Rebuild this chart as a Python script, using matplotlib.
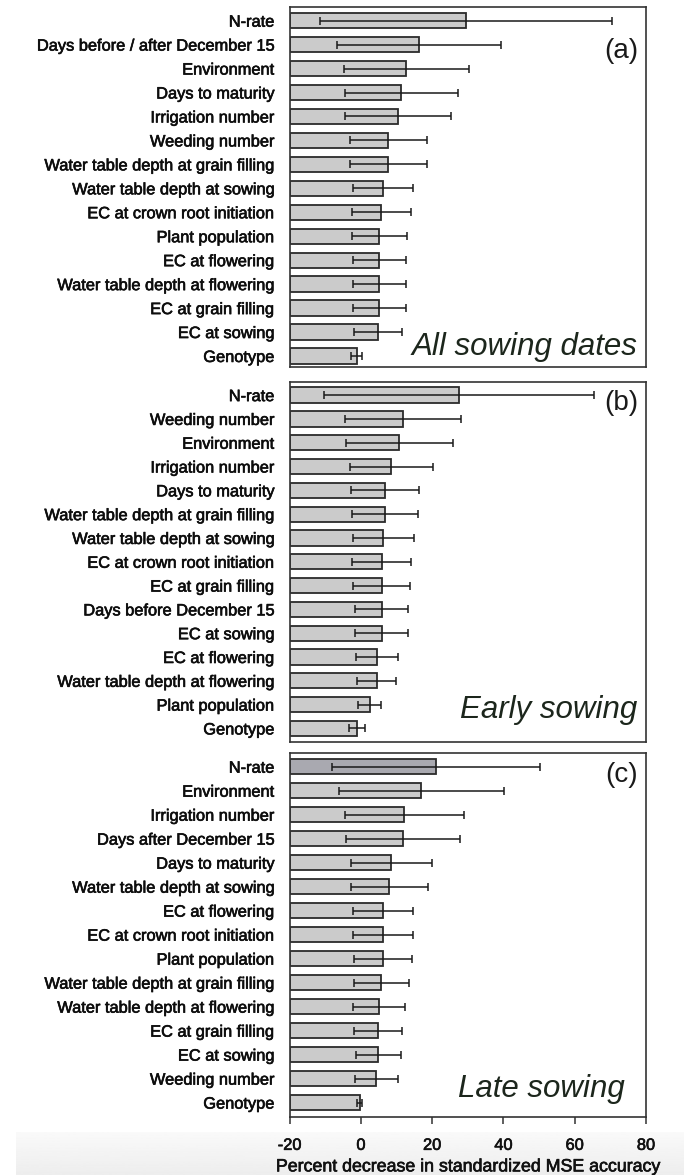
import matplotlib
matplotlib.use("Agg")
import matplotlib.pyplot as plt
import matplotlib.patheffects as pe
import numpy as np

plt.rcParams['font.family'] = ['Liberation Sans', 'DejaVu Sans']

# Panel (a): all sowing dates
labels_a = ["N-rate", "Days before / after December 15", "Environment", "Days to maturity",
            "Irrigation number", "Weeding number", "Water table depth at grain filling",
            "Water table depth at sowing", "EC at crown root initiation", "Plant population",
            "EC at flowering", "Water table depth at flowering", "EC at grain filling",
            "EC at sowing", "Genotype"]
values_a = [29.4, 16.4, 12.7, 11.3, 10.4, 7.6, 7.6, 6.2, 5.7, 5.2, 5.2, 5.2, 5.2, 4.8, -1.2]
errors_a = [41.0, 23.0, 17.5, 15.9, 15.0, 10.8, 10.8, 8.4, 8.3, 7.6, 7.5, 7.5, 7.5, 6.8, 1.5]

# Panel (b): early sowing
labels_b = ["N-rate", "Weeding number", "Environment", "Irrigation number", "Days to maturity",
            "Water table depth at grain filling", "Water table depth at sowing",
            "EC at crown root initiation", "EC at grain filling", "Days before December 15",
            "EC at sowing", "EC at flowering", "Water table depth at flowering",
            "Plant population", "Genotype"]
values_b = [27.5, 11.8, 10.8, 8.5, 6.7, 6.7, 6.3, 5.8, 5.8, 5.8, 5.8, 4.4, 4.4, 2.5, -1.2]
errors_b = [37.8, 16.3, 15.0, 11.7, 9.6, 9.2, 8.6, 8.2, 7.9, 7.5, 7.5, 5.9, 5.4, 3.2, 2.2]

# Panel (c): late sowing
labels_c = ["N-rate", "Environment", "Irrigation number", "Days after December 15",
            "Days to maturity", "Water table depth at sowing", "EC at flowering",
            "EC at crown root initiation", "Plant population",
            "Water table depth at grain filling", "Water table depth at flowering",
            "EC at grain filling", "EC at sowing", "Weeding number", "Genotype"]
values_c = [21.0, 16.9, 12.2, 11.8, 8.5, 8.0, 6.2, 6.2, 6.2, 5.7, 5.2, 4.8, 4.8, 4.3, -0.4]
errors_c = [29.2, 23.2, 16.7, 16.0, 11.4, 10.8, 8.4, 8.4, 8.1, 7.7, 7.3, 6.8, 6.3, 6.0, 0.8]

panel_tags = ["(a)", "(b)", "(c)"]
panel_titles = ["All sowing dates", "Early sowing", "Late sowing"]
xticks = [-20, 0, 20, 40, 60, 80]
xlabel = "Percent decrease in standardized MSE accuracy"

W, H = 684, 1175
fig = plt.figure(figsize=(W / 100, H / 100), dpi=100)

# faint grey band behind the x-axis labels
band_top = 1132
bg = fig.add_axes([16 / W, 0, 1 - 16 / W, (H - band_top) / H], zorder=-10)
grad = np.linspace(0.978, 0.93, 50).reshape(-1, 1)
bg.imshow(grad, aspect="auto", cmap="gray", vmin=0, vmax=1,
          extent=[0, 1, 0, 1], origin="upper")
bg.axis("off")

left = 289.7 / W
width = (646.0 - 289.7) / W
boxes = [(7, 367), (382, 742), (753, 1117)]
ylims = [(-0.46, 14.57), (-0.57, 14.55), (-0.6, 14.57)]
tag_y = [51, 403, 775]
title_pos = [(637, 355), (637, 718), (625, 1097)]

XMIN, XMAX = -20, 80
edge = "#2b2b2b"
heavy = [pe.withStroke(linewidth=0.45, foreground="#0d0d0d")]

panels = [(labels_a, values_a, errors_a), (labels_b, values_b, errors_b),
          (labels_c, values_c, errors_c)]

for i, (labels, vals, errs) in enumerate(panels):
    top, bot = boxes[i]
    ax = fig.add_axes([left, 1 - bot / H, width, (bot - top) / H])
    ax.patch.set_alpha(0)
    n = len(labels)
    ypos = list(range(n - 1, -1, -1))
    colors = ["#cbcbcb"] * n
    if i == 2:
        colors[0] = "#a9a9b0"
    ax.barh(ypos, [v - XMIN for v in vals], left=XMIN, height=0.64,
            color=colors, edgecolor=edge, linewidth=1.3, zorder=2)
    ax.errorbar(vals, ypos, xerr=errs, fmt="none", ecolor="#1a1a1a",
                elinewidth=1.1, capsize=2.8, capthick=1.1, zorder=3)
    ax.set_xlim(XMIN, XMAX)
    ax.set_ylim(*ylims[i])
    ax.set_yticks(ypos)
    ax.set_yticklabels(labels, fontsize=11.8, color="#0d0d0d")
    for t in ax.get_yticklabels():
        t.set_path_effects(heavy)
    ax.tick_params(axis="y", length=0, pad=11)
    for s in ax.spines.values():
        s.set_color("#333333")
        s.set_linewidth(1.2)
    if i < 2:
        ax.set_xticks([])
    else:
        ax.set_xticks(xticks)
        ax.set_xticklabels([str(t) for t in xticks], fontsize=11.8, color="#111111")
        for t in ax.get_xticklabels():
            t.set_path_effects(heavy)
        ax.tick_params(axis="x", direction="out", length=5, width=1.1, pad=10,
                       color="#333333")
        ax.set_xlabel(xlabel, fontsize=12.8, color="#111111", labelpad=4,
                      path_effects=heavy)
    fig.text(638 / W, 1 - tag_y[i] / H, panel_tags[i], ha="right", va="center",
             fontsize=20, color="#1a1a1a")
    tx, ty = title_pos[i]
    fig.text(tx / W, 1 - ty / H, panel_titles[i], ha="right", va="baseline",
             fontsize=22.5, style="italic", color="#1c261c")

fig.savefig("out.png", dpi=100)
